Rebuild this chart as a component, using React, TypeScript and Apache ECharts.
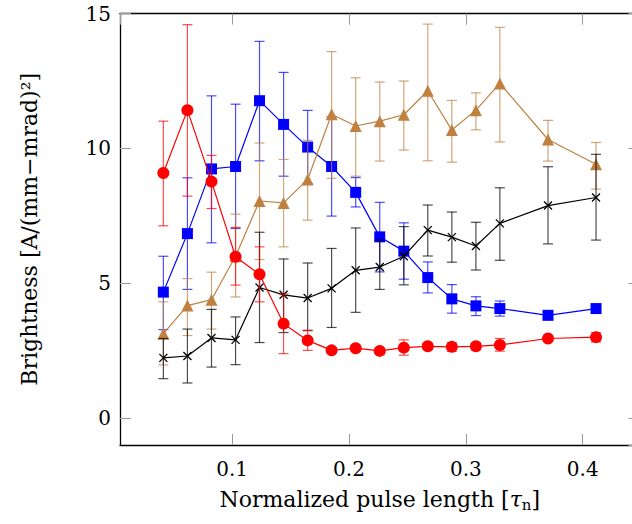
import React, { useEffect, useRef } from "react";
import * as echarts from "echarts";

// Normalized pulse length values (shared x positions)
const xs = [0.0411, 0.0617, 0.0823, 0.1029, 0.1234, 0.144, 0.1646, 0.1851, 0.2057, 0.2263, 0.2469, 0.2674, 0.288, 0.3086, 0.3291, 0.3703, 0.4114];

// Red circles
const redVal = [9.09, 11.42, 8.77, 5.98, 5.33, 3.5, 2.88, 2.51, 2.59, 2.49, 2.61, 2.66, 2.64, 2.66, 2.71, 2.95, 3.0];
const redLow = [7.13, 8.23, 7.77, 4.93, 4.31, 2.39, 2.51, 2.4, 2.48, 2.38, 2.33, 2.55, 2.47, 2.53, 2.48, 2.85, 2.82];
const redHigh = [11.01, 14.59, 9.74, 7.07, 6.35, 4.6, 3.26, 2.62, 2.7, 2.6, 2.9, 2.77, 2.8, 2.79, 2.95, 3.05, 3.17];

// Blue squares
const blueVal = [4.67, 6.84, 9.24, 9.33, 11.77, 10.89, 10.05, 9.33, 8.37, 6.72, 6.19, 5.21, 4.42, 4.16, 4.06, 3.81, 4.06];
const blueLow = [3.28, 4.77, 6.5, 7.03, 9.54, 8.97, 8.7, 7.49, 7.83, 5.42, 5.15, 4.64, 3.89, 3.8, 3.78, 3.65, 3.95];
const blueHigh = [6.0, 8.91, 11.95, 11.64, 13.97, 12.82, 11.41, 11.17, 8.92, 8.0, 7.24, 5.79, 4.95, 4.5, 4.34, 3.97, 4.17];

// Brown triangles
const brownVal = [3.13, 4.17, 4.39, 6.0, 8.05, 7.98, 8.85, 11.27, 10.83, 11.01, 11.25, 12.14, 10.68, 11.42, 12.41, 10.33, 9.41];
const brownLow = [1.97, 3.06, 3.3, 4.49, 5.88, 6.35, 7.34, 8.89, 8.97, 9.53, 9.94, 9.54, 9.49, 10.69, 10.24, 9.53, 8.49];
const brownHigh = [4.31, 5.17, 5.41, 7.56, 10.2, 9.59, 10.3, 13.59, 12.62, 12.46, 12.5, 14.61, 11.78, 12.06, 14.49, 11.04, 10.22];

// Black crosses
const blackVal = [2.23, 2.3, 2.97, 2.9, 4.84, 4.57, 4.45, 4.81, 5.48, 5.6, 6.0, 6.97, 6.71, 6.38, 7.22, 7.88, 8.18];
const blackLow = [1.46, 1.3, 1.89, 1.98, 2.8, 3.17, 3.24, 3.36, 3.92, 4.77, 4.94, 6.01, 5.78, 5.49, 5.85, 6.46, 6.6];
const blackHigh = [2.95, 3.3, 4.03, 3.75, 6.89, 5.9, 5.75, 6.29, 7.05, 6.6, 7.1, 7.9, 7.64, 7.26, 8.54, 9.32, 9.78];

const X_MIN = 0.004;
const X_MAX = 0.4486;
const Y_MIN = -1;
const Y_MAX = 15;

const FONT = "DejaVu Serif";

const RED = "#ff0000";
const BLUE = "#0000ff";
const BROWN = "#bf8040";
const BLACK = "#000000";

function errSeries(vals: number[], lows: number[], highs: number[], color: string, z: number) {
  return {
    type: "custom",
    xAxisIndex: 0,
    yAxisIndex: 0,
    z,
    silent: true,
    encode: { x: 0, y: [1, 2] },
    data: xs.map((x, i) => [x, lows[i], highs[i], vals[i]]),
    renderItem: (_params: any, api: any) => {
      const x = api.value(0);
      const lo = api.coord([x, api.value(1)]);
      const hi = api.coord([x, api.value(2)]);
      const w = 5;
      const style = { stroke: color, lineWidth: 1.2, opacity: 0.7 };
      return {
        type: "group",
        children: [
          { type: "line", shape: { x1: lo[0], y1: lo[1], x2: hi[0], y2: hi[1] }, style },
          { type: "line", shape: { x1: lo[0] - w, y1: lo[1], x2: lo[0] + w, y2: lo[1] }, style },
          { type: "line", shape: { x1: hi[0] - w, y1: hi[1], x2: hi[0] + w, y2: hi[1] }, style },
        ],
      };
    },
  };
}

function lineSeries(vals: number[], color: string, symbol: string, size: number, z: number, cross = false) {
  return {
    type: "line",
    xAxisIndex: 0,
    yAxisIndex: 0,
    z,
    silent: true,
    data: xs.map((x, i) => [x, vals[i]]),
    symbol,
    symbolSize: size,
    showSymbol: true,
    lineStyle: { color, width: 1.2 },
    itemStyle: cross
      ? { color: "none", borderColor: color, borderWidth: 1.3 }
      : { color, borderWidth: 0 },
  };
}

export default function App() {
  const ref = useRef<HTMLDivElement>(null);
  useEffect(() => {
    if (!ref.current) return;
    const chart = echarts.init(ref.current, undefined, { renderer: "svg" });
    const axisLine = { show: true, onZero: false, lineStyle: { color: "#000", width: 1.3 } };
    const axisTick = { show: true, inside: true, length: 11, lineStyle: { color: "#999", width: 1 } };
    const labelBase = { fontFamily: FONT, fontSize: 20, color: "#000" };
    const titleBase = { fontFamily: FONT, fontSize: 22, color: "#000" };
    chart.setOption({
      animation: false,
      backgroundColor: "#fff",
      grid: { left: 120, top: 13.6, width: 519.5, height: 431.4, containLabel: false, outerBoundsMode: "none" },
      xAxis: [
        {
          type: "value",
          position: "bottom",
          min: X_MIN,
          max: X_MAX,
          splitNumber: 5,
          axisLine,
          axisTick,
          splitLine: { show: false },
          axisLabel: {
            ...labelBase,
            margin: 14,
            showMinLabel: false,
            showMaxLabel: false,
            formatter: (v: number) => v.toFixed(1),
          },
          name: "{t|Normalized pulse length [}{i|τ}{s|n}{t|]}",
          nameLocation: "middle",
          nameGap: 41,
          nameTextStyle: {
            ...titleBase,
            rich: {
              t: { ...titleBase, lineHeight: 26 },
              i: { ...titleBase, fontStyle: "italic", lineHeight: 26 },
              s: { fontFamily: FONT, fontSize: 15, color: "#000", lineHeight: 26, padding: [11, 0, 0, 0] },
            },
          },
        },
        {
          type: "value",
          position: "top",
          min: X_MIN,
          max: X_MAX,
          splitNumber: 5,
          axisLine,
          axisTick,
          splitLine: { show: false },
          axisLabel: { show: false },
        },
      ],
      yAxis: [
        {
          type: "value",
          position: "left",
          min: Y_MIN,
          max: Y_MAX,
          splitNumber: 3,
          axisLine,
          axisTick,
          splitLine: { show: false },
          axisLabel: { ...labelBase, margin: 9, showMinLabel: false },
          name: "Brightness [A/(mm\u2212mrad)\u00b2]",
          nameLocation: "middle",
          nameGap: 80,
          nameTextStyle: { ...titleBase },
        },
        {
          type: "value",
          position: "right",
          min: Y_MIN,
          max: Y_MAX,
          splitNumber: 3,
          axisLine,
          axisTick,
          splitLine: { show: false },
          axisLabel: { show: false },
        },
      ],
      series: [
        errSeries(blueVal, blueLow, blueHigh, BLUE, 2),
        lineSeries(blueVal, BLUE, "rect", 11, 3),
        errSeries(brownVal, brownLow, brownHigh, BROWN, 4),
        lineSeries(brownVal, BROWN, "triangle", 12, 5),
        errSeries(blackVal, blackLow, blackHigh, BLACK, 6),
        lineSeries(blackVal, BLACK, "path://M0,0L10,10M10,0L0,10", 8, 7, true),
        errSeries(redVal, redLow, redHigh, RED, 8),
        lineSeries(redVal, RED, "circle", 12, 9),
      ],
    });
    return () => chart.dispose();
  }, []);
  return (
    <div
      ref={ref}
      style={{ position: "fixed", left: 0, top: 0, width: 632, height: 524, background: "#fff" }}
    />
  );
}
